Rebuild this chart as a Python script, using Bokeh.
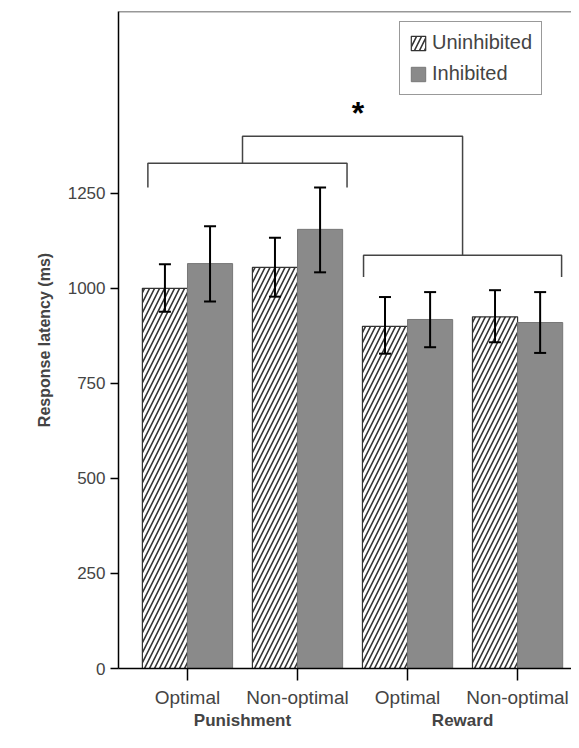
from bokeh.plotting import figure
from bokeh.models import (ColumnDataSource, Whisker, FixedTicker, LinearAxis, Span, Legend, LegendItem, Range1d)
from bokeh.embed import file_html
from bokeh.resources import INLINE

conditions = ["Optimal", "Non-optimal", "Optimal", "Non-optimal"]
groups = ["Punishment", "Reward"]
uninhibited = [1000, 1055, 900, 925]
uninhibited_lo = [938, 978, 828, 858]
uninhibited_hi = [1063, 1133, 977, 995]
inhibited = [1065, 1155, 918, 910]
inhibited_lo = [965, 1042, 845, 830]
inhibited_hi = [1163, 1265, 990, 990]
y_ticks = [0, 250, 500, 750, 1000, 1250]

FONT = "Liberation Sans"
xs = list(range(len(conditions)))
bw = 0.41

p = figure(width=571, height=740, output_backend="svg", toolbar_location=None,
           x_range=Range1d(-0.627, 3.49), y_range=Range1d(0, 1728),
           min_border_left=118, min_border_right=0, min_border_top=11, min_border_bottom=72)
p.outline_line_color = None
p.grid.visible = False
p.xaxis.visible = False

src_u = ColumnDataSource(dict(x=[x - bw / 2 for x in xs], top=uninhibited, lo=uninhibited_lo, hi=uninhibited_hi))
src_i = ColumnDataSource(dict(x=[x + bw / 2 for x in xs], top=inhibited, lo=inhibited_lo, hi=inhibited_hi))
ru = p.vbar(x="x", top="top", width=bw, source=src_u, fill_color="white", line_color="#333333",
            line_width=1.2, hatch_pattern="/", hatch_color="#333333", hatch_scale=10, hatch_weight=1.6)
ri = p.vbar(x="x", top="top", width=bw, source=src_i, fill_color="#8a8a8a", line_color="#777777", line_width=1)
for s in (src_u, src_i):
    w = Whisker(base="x", lower="lo", upper="hi", source=s, line_color="black", line_width=2, level="overlay")
    w.upper_head.size = 12
    w.lower_head.size = 12
    w.upper_head.line_width = 2
    w.lower_head.line_width = 2
    p.add_layout(w)

# brackets
p.line([-0.36, -0.36, 1.45, 1.45], [1265, 1329, 1329, 1265], line_color="#444444", line_width=1.5)
p.line([1.6, 1.6, 3.4, 3.4], [1030, 1087, 1087, 1030], line_color="#444444", line_width=1.5)
p.line([0.5, 0.5, 2.5, 2.5], [1329, 1400, 1400, 1087], line_color="#444444", line_width=1.5)
p.text(x=[1.55], y=[1415], text=["*"], text_font_size="32px", text_font_style="bold",
       text_align="center", text_baseline="bottom", text_color="black")

p.add_layout(Span(location=1728, dimension="width", line_color="#333333", line_width=1.5))

p.yaxis.ticker = FixedTicker(ticks=y_ticks)
p.yaxis.axis_label = "Response latency (ms)"
p.yaxis.axis_label_text_font = FONT
p.yaxis.axis_label_text_font_style = "bold"
p.yaxis.axis_label_text_font_size = "16px"
p.yaxis.axis_label_standoff = 12
p.yaxis.major_label_text_font = FONT
p.yaxis.major_label_text_font_size = "17px"
p.yaxis.minor_tick_line_color = None
p.yaxis.major_tick_in = 0
p.yaxis.major_tick_out = 8
p.yaxis.axis_line_width = 1.5
p.yaxis.major_tick_line_width = 1.5

ax = LinearAxis(ticker=FixedTicker(ticks=xs),
                major_label_overrides={i: c for i, c in enumerate(conditions)})
ax.major_label_text_font = FONT
ax.major_label_text_font_size = "19px"
ax.major_tick_in = 0
ax.major_tick_out = 12
ax.major_tick_line_width = 1.5
ax.axis_line_width = 1.5
ax.minor_tick_line_color = None
ax.major_label_standoff = 6
p.add_layout(ax, "below")

gx = LinearAxis(ticker=FixedTicker(ticks=[0.5, 2.5]),
                major_label_overrides={0.5: groups[0], 2.5: groups[1]})
gx.axis_line_color = None
gx.major_tick_line_color = None
gx.minor_tick_line_color = None
gx.major_label_text_font = FONT
gx.major_label_text_font_style = "bold"
gx.major_label_text_font_size = "17px"
gx.major_label_standoff = -6
p.add_layout(gx, "below")

leg = Legend(items=[LegendItem(label="Uninhibited", renderers=[ru]),
                    LegendItem(label="Inhibited", renderers=[ri])],
             location=(281, 573))
leg.label_text_font = FONT
leg.label_text_font_size = "20px"
leg.border_line_color = "#333333"
leg.border_line_width = 1.5
leg.glyph_width = 18
leg.glyph_height = 18
leg.spacing = 8
leg.padding = 9
p.add_layout(leg)

open("out.html", "w").write(file_html(p, INLINE))
